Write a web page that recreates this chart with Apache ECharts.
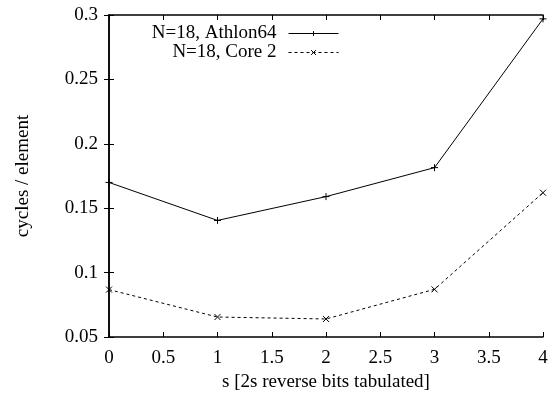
<!DOCTYPE html>
<html><head><meta charset="utf-8">
<script src="https://cdn.jsdelivr.net/npm/echarts@6/dist/echarts.min.js"></script>
<style>html,body{margin:0;padding:0;background:#fff}#c{width:558px;height:398px}</style>
</head><body><div id="c"></div>
<script>
const xValues = [0, 1, 2, 3, 4];
const athlon64 = [0.170, 0.1405, 0.159, 0.1815, 0.297];
const core2 = [0.0868, 0.0655, 0.064, 0.087, 0.162];
const seriesNames = ['N=18, Athlon64', 'N=18, Core 2'];
const xTitle = 's [2s reverse bits tabulated]';
const yTitle = 'cycles / element';

const font = 'Liberation Serif';
const fs = 19;
const plusPath = 'path://M0,5 L10,5 M5,0 L5,10';
const crossPath = 'path://M0,0 L10,10 M10,0 L0,10';

const chart = echarts.init(document.getElementById('c'), null, {renderer: 'canvas'});
const tickStyle = {show: true, inside: true, length: 5, lineStyle: {color: '#000', width: 1}};
const lineAxis = {show: true, lineStyle: {color: '#000', width: 1.5}};
chart.setOption({
  animation: false,
  backgroundColor: '#fff',
  textStyle: {fontFamily: font, color: '#000'},
  grid: {left: 109, right: 15, top: 15, bottom: 61, containLabel: false},
  legend: {
    right: 214, top: 19, orient: 'vertical', align: 'right',
    itemWidth: 50, itemHeight: 6, itemGap: 0,
    lineStyle: {width: 1},
    itemStyle: {borderWidth: 1},
    textStyle: {fontFamily: font, fontSize: fs, color: '#000', padding: [0, 7, 0, 0]},
    data: seriesNames
  },
  xAxis: [{
    type: 'value', min: 0, max: 4, interval: 0.5,
    axisLine: lineAxis, axisTick: tickStyle, splitLine: {show: false},
    axisLabel: {fontFamily: font, fontSize: fs, color: '#000', margin: 12},
    name: xTitle, nameLocation: 'middle', nameGap: 34,
    nameTextStyle: {fontFamily: font, fontSize: fs, color: '#000'}
  }, {
    type: 'value', min: 0, max: 4, interval: 0.5, position: 'top',
    axisLine: lineAxis, axisTick: tickStyle, axisLabel: {show: false}, splitLine: {show: false}
  }],
  yAxis: [{
    type: 'value', min: 0.05, max: 0.3, interval: 0.05,
    axisLine: lineAxis, axisTick: tickStyle, splitLine: {show: false},
    axisLabel: {fontFamily: font, fontSize: fs, color: '#000', margin: 11,
      formatter: v => String(Math.round(v * 100) / 100)},
    name: yTitle, nameLocation: 'middle', nameGap: 76,
    nameTextStyle: {fontFamily: font, fontSize: fs, color: '#000'}
  }, {
    type: 'value', min: 0.05, max: 0.3, interval: 0.05, position: 'right',
    axisLine: lineAxis, axisTick: tickStyle, axisLabel: {show: false}, splitLine: {show: false}
  }],
  series: [{
    name: seriesNames[0], type: 'line',
    data: xValues.map((x, i) => [x, athlon64[i]]),
    symbol: plusPath, symbolSize: 7, showSymbol: true,
    lineStyle: {color: '#000', width: 1},
    itemStyle: {color: '#000', borderColor: '#000', borderWidth: 1}
  }, {
    name: seriesNames[1], type: 'line',
    data: xValues.map((x, i) => [x, core2[i]]),
    symbol: crossPath, symbolSize: 6, showSymbol: true,
    lineStyle: {color: '#000', width: 1, type: [3, 3]},
    itemStyle: {color: '#000', borderColor: '#000', borderWidth: 1}
  }]
});
</script></body></html>
